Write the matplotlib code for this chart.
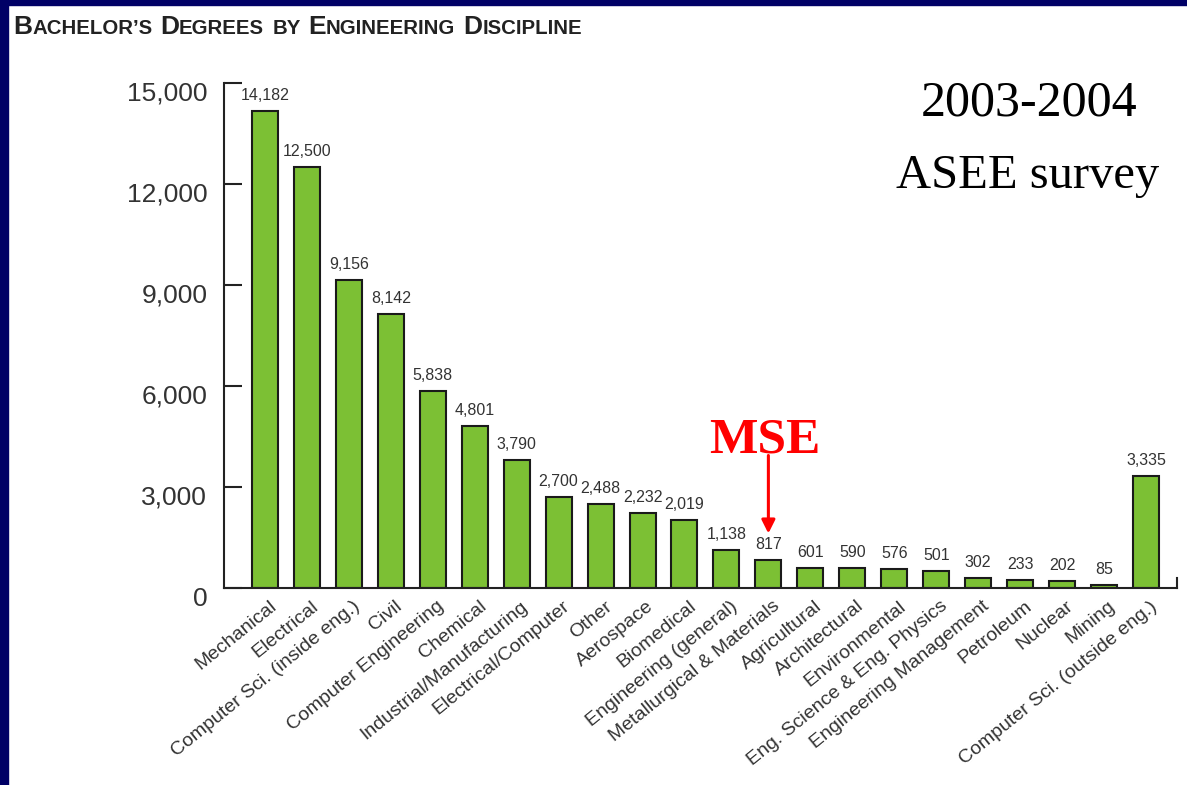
import matplotlib
matplotlib.use('Agg')
import matplotlib.pyplot as plt
from matplotlib.patches import Rectangle
from matplotlib.transforms import ScaledTranslation, offset_copy
from matplotlib.ticker import FuncFormatter

# Bachelor's degrees awarded, 2003-2004
disciplines = ['Mechanical', 'Electrical', 'Computer Sci. (inside eng.)', 'Civil',
               'Computer Engineering', 'Chemical', 'Industrial/Manufacturing',
               'Electrical/Computer', 'Other', 'Aerospace', 'Biomedical',
               'Engineering (general)', 'Metallurgical & Materials', 'Agricultural',
               'Architectural', 'Environmental', 'Eng. Science & Eng. Physics',
               'Engineering Management', 'Petroleum', 'Nuclear', 'Mining',
               'Computer Sci. (outside eng.)']
degrees = [14182, 12500, 9156, 8142, 5838, 4801, 3790, 2700, 2488, 2232, 2019,
           1138, 817, 601, 590, 576, 501, 302, 233, 202, 85, 3335]
y_ticks = [0, 3000, 6000, 9000, 12000, 15000]
highlight = 'Metallurgical & Materials'

W, H = 1187, 785
fig = plt.figure(figsize=(W / 100, H / 100), dpi=100)
fig.patch.set_facecolor('white')

# navy frame on the left and top edges
navy = '#000066'
fig.patches.append(Rectangle((0, 0), 8 / W, 1, transform=fig.transFigure,
                             color=navy, zorder=0))
fig.patches.append(Rectangle((0, 1 - 5 / H), 1, 5 / H, transform=fig.transFigure,
                             color=navy, zorder=0))

ax = fig.add_axes([224 / W, 1 - 588 / H, (1177 - 224) / W, (588 - 83) / H])
x = list(range(len(degrees)))
ax.bar(x, degrees, width=0.62, color='#7cc034', edgecolor='#1a1a1a',
       linewidth=1.5, zorder=2)

ax.set_xlim(-0.976, 21.74)
ax.set_ylim(0, 15000)

# value labels over each bar
for xi, v in zip(x, degrees):
    ax.annotate(f'{v:,}', (xi, v), xytext=(0, 8), textcoords='offset pixels',
                ha='center', va='bottom', fontsize=11.5, color='#333333',
                family='Liberation Sans')

# axes styling
ax.spines['top'].set_visible(False)
for side in ['left', 'bottom', 'right']:
    ax.spines[side].set_linewidth(1.5)
    ax.spines[side].set_color('#222222')
ax.spines['right'].set_bounds(0, 300)

ax.set_yticks(y_ticks)
ax.yaxis.set_major_formatter(FuncFormatter(lambda v, p: f'{int(v):,}'))
ax.tick_params(axis='y', direction='in', length=13, width=1.5, color='#222222',
               labelsize=19, labelcolor='#333333', pad=12)
for lab in ax.get_yticklabels():
    lab.set_family('Liberation Sans')
    lab.set_transform(lab.get_transform() +
                      ScaledTranslation(0, -8 / 100, fig.dpi_scale_trans))

ax.set_xticks(x)
ax.set_xticklabels(disciplines, rotation=39, ha='right', va='top',
                   rotation_mode='anchor', fontsize=14, color='#333333',
                   family='Liberation Sans')
ax.tick_params(axis='x', length=0, pad=7)
for lab in ax.get_xticklabels():
    lab.set_transform(lab.get_transform() +
                      ScaledTranslation(4 / 100, 0, fig.dpi_scale_trans))

# MSE callout pointing at the materials bar
mi = disciplines.index(highlight)
tip = offset_copy(ax.transData, fig=fig, x=0, y=27, units='dots')
ax.annotate('', xy=(mi, degrees[mi]), xycoords=tip,
            xytext=(0, 78), textcoords='offset pixels',
            arrowprops=dict(arrowstyle='-|>', color='red', lw=2.2,
                            mutation_scale=20, shrinkA=0, shrinkB=0))
label_at = offset_copy(ax.transData, fig=fig, x=-4, y=108, units='dots')
ax.text(mi, degrees[mi], 'MSE', transform=label_at, ha='center', va='baseline',
        color='red', fontsize=37, fontweight='bold', family='Liberation Serif')

fig.text(1029 / W, 1 - 115 / H, '2003-2004', ha='center', va='baseline',
         fontsize=36, family='Liberation Serif', color='black')
fig.text(1028 / W, 1 - 188 / H, 'ASEE survey', ha='center', va='baseline',
         fontsize=35, family='Liberation Serif', color='black')

# small-caps title, written piece by piece
pieces = [[('B', 19), ('ACHELOR\u2019S', 14.7)],
          [('D', 19), ('EGREES', 14.7)],
          [('BY', 14.7)],
          [('E', 19), ('NGINEERING', 14.7)],
          [('D', 19), ('ISCIPLINE', 14.7)]]
renderer = fig.canvas.get_renderer()
xpos = 13
for word in pieces:
    for txt, size in word:
        t = fig.text(xpos / W, 1 - 34 / H, txt, ha='left', va='baseline',
                     fontsize=size, fontweight='bold', color='#222222',
                     family='Liberation Sans')
        xpos = t.get_window_extent(renderer).x1
    xpos += 8

fig.savefig('out.png', dpi=100)
